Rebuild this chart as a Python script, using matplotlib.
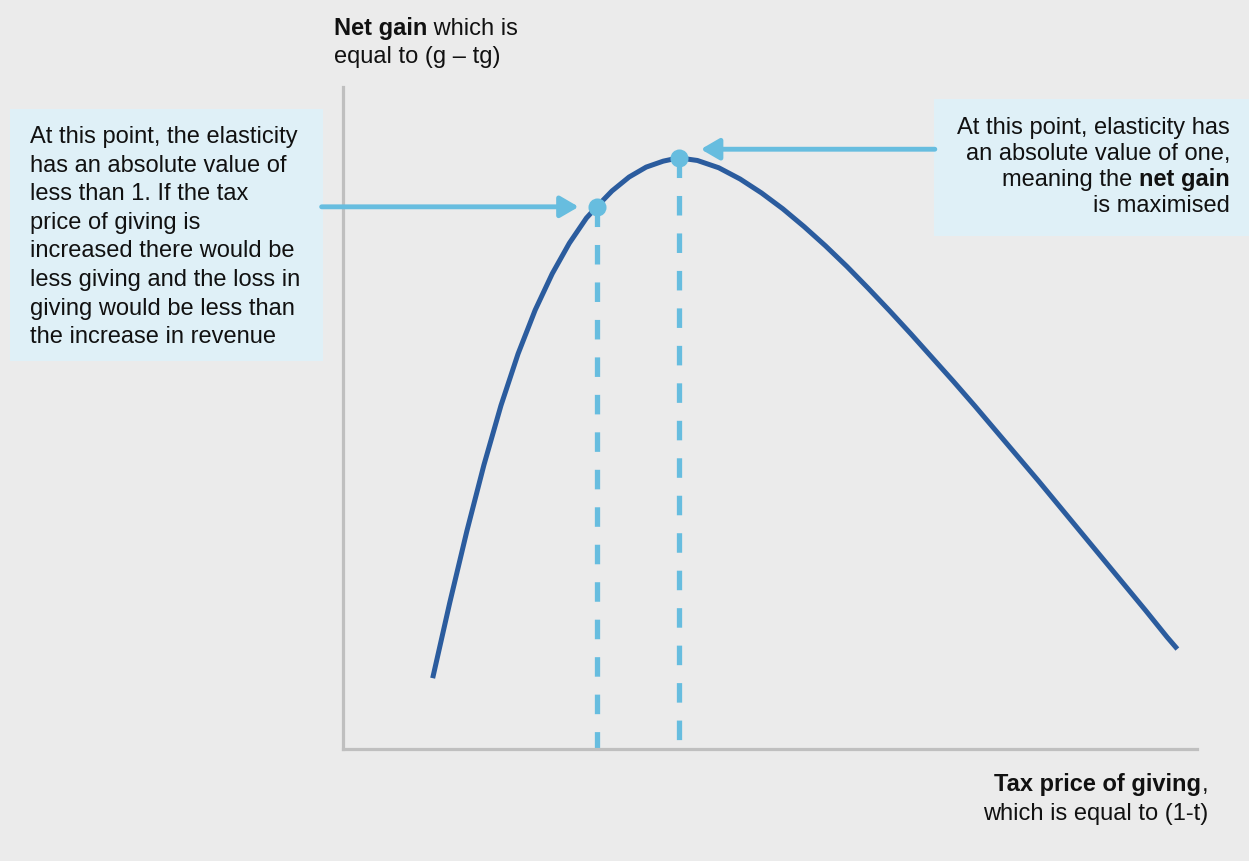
import matplotlib.pyplot as plt
from matplotlib.patches import Rectangle

# curve (x = tax price of giving, y = net gain, 0-100 scale)
price = [10.5, 12.5, 14.5, 16.5, 18.5, 20.5, 22.5, 24.5, 26.5, 28.5, 29.7,
         31.5, 33.5, 35.5, 37.5, 39.3, 41.5, 44.0, 46.5, 49.0, 51.5, 54.0,
         56.5, 59.0, 61.5, 64.0, 66.5, 69.0, 71.5, 74.0, 76.5, 79.0, 81.5,
         84.0, 86.5, 89.0, 91.5, 94.0, 96.5, 97.7]
net_gain = [10.7, 22.1, 32.9, 42.9, 51.9, 59.7, 66.3, 71.8, 76.4, 80.2, 81.9,
            84.3, 86.4, 87.9, 88.8, 89.3, 88.9, 87.8, 86.1, 84.0, 81.6, 78.9,
            76.0, 72.9, 69.6, 66.2, 62.7, 59.1, 55.5, 51.8, 48.0, 44.2, 40.4,
            36.5, 32.6, 28.7, 24.8, 20.9, 16.9, 15.1]

# the two marked points: elasticity below 1, elasticity equal to 1
point_x = [29.7, 39.3]
point_y = [81.9, 89.3]

left_note = ["At this point, the elasticity", "has an absolute value of",
             "less than 1. If the tax", "price of giving is",
             "increased there would be", "less giving and the loss in",
             "giving would be less than", "the increase in revenue"]

W, H = 1249, 862
BG = '#EBEBEB'
DARK = '#2B5C9E'
LIGHT = '#67BDDF'
BOX = '#DFF0F7'
INK = '#111111'
FS = 17

plt.rcParams['font.family'] = ['Liberation Sans', 'DejaVu Sans']

fig = plt.figure(figsize=(W / 100, H / 100), dpi=100, facecolor=BG)


def fx(px):
    return px / W


def fy(py):
    return 1 - py / H


ax = fig.add_axes([fx(343), fy(750), fx(1197) - fx(343), fy(88) - fy(750)])
ax.patch.set_visible(False)
ax.set_xlim(0, 100)
ax.set_ylim(0, 100)
for s in ['top', 'right']:
    ax.spines[s].set_visible(False)
for s in ['left', 'bottom']:
    ax.spines[s].set_color('#BFBFBF')
    ax.spines[s].set_linewidth(2.3)
ax.set_xticks([])
ax.set_yticks([])

# note boxes (behind everything)
fig.patches.append(Rectangle((fx(10), fy(362)), fx(323) - fx(10), fy(110) - fy(362),
                             transform=fig.transFigure, facecolor=BOX, edgecolor='none', zorder=-1))
fig.patches.append(Rectangle((fx(934), fy(237)), fx(1249) - fx(934), fy(100) - fy(237),
                             transform=fig.transFigure, facecolor=BOX, edgecolor='none', zorder=-1))

# dashed drop lines
for x, y in zip(point_x, point_y):
    ax.plot([x, x], [y, 0], color=LIGHT, lw=3.8, linestyle=(0, (3.7, 3.4)),
            dash_capstyle='butt', zorder=2, clip_on=False)

ax.plot(price, net_gain, color=DARK, lw=3.6, zorder=3, clip_on=False,
        solid_joinstyle='round', solid_capstyle='butt')
ax.plot(point_x, point_y, 'o', color=LIGHT, markersize=13, markeredgewidth=0, zorder=4)

# arrows from the notes to the points
arrow = dict(arrowstyle='-|>,head_length=0.55,head_width=0.32', color=LIGHT, lw=3.5,
             shrinkA=0, shrinkB=0, mutation_scale=20)
ax.annotate('', xy=(point_x[0] - 2.1, point_y[0]), xytext=(-2.5, point_y[0]),
            arrowprops=arrow, annotation_clip=False)
ax.annotate('', xy=(point_x[1] + 2.6, point_y[1] + 1.3), xytext=(69.3, point_y[1] + 1.3),
            arrowprops=arrow, annotation_clip=False)

# left note
for i, line in enumerate(left_note):
    fig.text(fx(30), fy(143 + 28.6 * i), line, fontsize=FS, ha='left', va='baseline',
             color=INK)

# right note
fig.text(fx(1230), fy(134), 'At this point, elasticity has', fontsize=FS,
         ha='right', va='baseline', color=INK)
fig.text(fx(1230), fy(160), 'an absolute value of one,', fontsize=FS,
         ha='right', va='baseline', color=INK)
t = fig.text(fx(1230), fy(186), 'net gain', fontsize=FS, fontweight='bold',
             ha='right', va='baseline', color=INK)
ax.annotate('meaning the ', xy=(0, 0), xycoords=t, fontsize=FS, ha='right', va='bottom',
            color=INK)
fig.text(fx(1230), fy(212), 'is maximised', fontsize=FS, ha='right', va='baseline',
         color=INK)

# y axis label
t = fig.text(fx(334), fy(35), 'Net gain', fontsize=FS, fontweight='bold',
             ha='left', va='baseline', color=INK)
ax.annotate(' which is', xy=(1, 0), xycoords=t, fontsize=FS, ha='left', va='bottom',
            color=INK)
fig.text(fx(334), fy(63), 'equal to (g \u2013 tg)', fontsize=FS, ha='left',
         va='baseline', color=INK)

# x axis label
t = fig.text(fx(1208), fy(791), ',', fontsize=FS, ha='right', va='baseline', color=INK)
ax.annotate('Tax price of giving', xy=(0, 0), xycoords=t, fontsize=FS,
            fontweight='bold', ha='right', va='bottom', color=INK)
fig.text(fx(1208), fy(820), 'which is equal to (1-t)', fontsize=FS, ha='right',
         va='baseline', color=INK)

fig.savefig('out.png', dpi=100, facecolor=BG)
